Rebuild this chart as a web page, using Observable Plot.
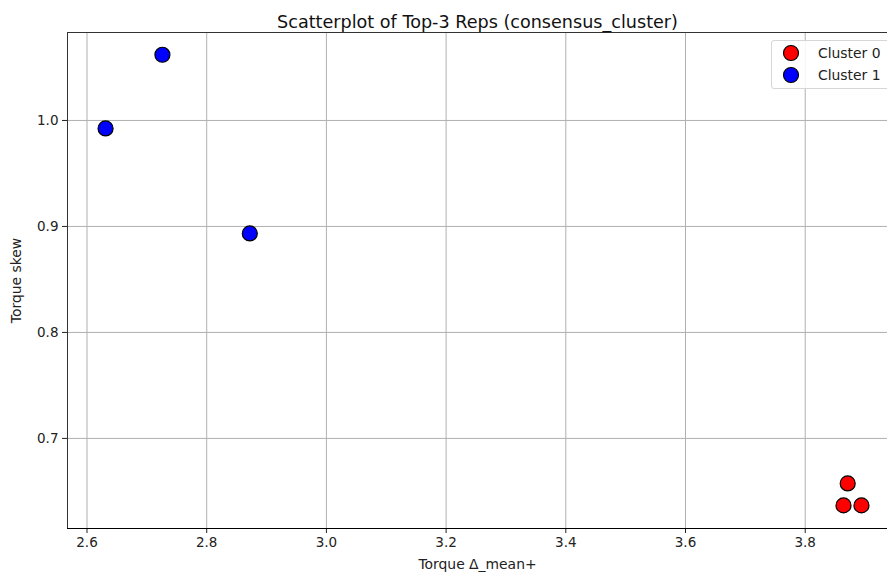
<!DOCTYPE html>
<html>
<head>
<meta charset="utf-8">
<script src="https://cdn.jsdelivr.net/npm/d3@7"></script>
<script src="https://cdn.jsdelivr.net/npm/@observablehq/plot@0.6"></script>
<style>
  body { margin: 0; background: #fff; font-family: "DejaVu Sans", sans-serif; }
  #wrap { position: relative; width: 887px; height: 579px; overflow: hidden; }
  #legend { position: absolute; left: 771px; top: 40px; width: 130px; height: 47px;
    border: 1px solid #d6d6d6; border-radius: 3px; background: rgba(255,255,255,0.85);
    font-size: 13.9px; color: #222; }
  .item { position: absolute; left: 10px; display: flex; align-items: center; }
  .item svg { margin-right: 18px; }
</style>
</head>
<body>
<div id="wrap"></div>
<script>
const clusters = ["Cluster 0", "Cluster 1"];
const colors = ["red", "blue"];
const xValues = [3.871, 3.864, 3.894, 2.631, 2.726, 2.872];
const yValues = [0.6575, 0.6368, 0.6368, 0.9925, 1.062, 0.8934];
const labels  = ["Cluster 0", "Cluster 0", "Cluster 0", "Cluster 1", "Cluster 1", "Cluster 1"];
const xTicks = [2.6, 2.8, 3.0, 3.2, 3.4, 3.6, 3.8];
const yTicks = [0.7, 0.8, 0.9, 1.0];
const title = "Scatterplot of Top-3 Reps (consensus_cluster)";

const data = xValues.map((x, i) => ({x, y: yValues[i], c: labels[i]}));

const chart = Plot.plot({
  width: 887, height: 579,
  marginLeft: 67, marginTop: 32, marginBottom: 51, marginRight: 0,
  style: {fontFamily: "DejaVu Sans, sans-serif", fontSize: "13px", color: "#222"},
  x: {domain: [2.5674, 3.9375]},
  y: {domain: [0.615, 1.083]},
  color: {domain: clusters, range: colors},
  marks: [
    Plot.gridX(xTicks, {stroke: "#b0b0b0", strokeOpacity: 1, strokeWidth: 1}),
    Plot.gridY(yTicks, {stroke: "#b0b0b0", strokeOpacity: 1, strokeWidth: 1}),
    Plot.axisX(xTicks, {tickSize: 5, tickPadding: 4, tickFormat: d3.format(".1f"), fontSize: 13.5, label: null}),
    Plot.axisX({ticks: [], label: "Torque Δ_mean+", labelAnchor: "center", labelArrow: "none", labelOffset: 40, fontSize: 13.9}),
    Plot.axisY(yTicks, {tickSize: 5, tickPadding: 4, tickFormat: d3.format(".1f"), fontSize: 13.5, label: null}),
    Plot.axisY({ticks: [], label: "Torque skew", labelAnchor: "center", labelArrow: "none", labelOffset: 56, fontSize: 13.9}),
    Plot.frame({anchor: "left", stroke: "#333"}),
    Plot.frame({anchor: "bottom", stroke: "#000"}),
    Plot.frame({anchor: "top", stroke: "#333"}),
    Plot.dot(data, {x: "x", y: "y", fill: "c", r: 7.5, stroke: "black", strokeWidth: 1.2}),
    Plot.text([title], {frameAnchor: "top", dy: -17, fontSize: 17.6, fill: "#111"})
  ]
});
document.getElementById("wrap").appendChild(chart);

const legend = document.createElement("div");
legend.id = "legend";
clusters.forEach((c, i) => {
  const item = document.createElement("div");
  item.className = "item";
  item.style.top = (3 + i * 22) + "px";
  item.innerHTML = `<svg width="18" height="18"><circle cx="9" cy="9" r="7.5" fill="${colors[i]}" stroke="black" stroke-width="1.2"/></svg><span>${c}</span>`;
  legend.appendChild(item);
});
document.getElementById("wrap").appendChild(legend);
</script>
</body>
</html>
